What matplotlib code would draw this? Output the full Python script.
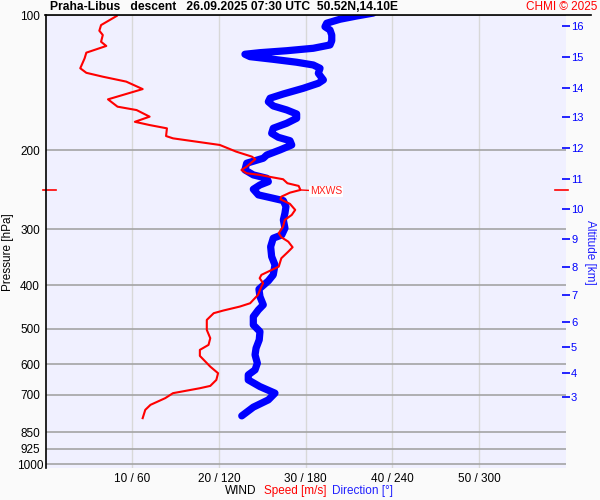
import matplotlib.pyplot as plt
from matplotlib.lines import Line2D

# wind speed [m/s] vs pressure [hPa]
speed_p = [100.5, 105.3, 108.4, 110.8, 114.7, 117.2, 121.3, 124.9, 131.4, 134.5,
           137.2, 140.7, 146.2, 154.1, 160.0, 162.8, 168.4, 172.9, 175.8, 178.8,
           186.0, 188.2, 194.7, 201.5, 206.7, 209.5, 217.6, 221.3, 225.1, 227.0,
           229.7, 232.1, 236.9, 240.2, 245.2, 248.6, 253.8, 257.2, 263.4, 271.6,
           278.7, 285.9, 295.9, 306.1, 312.5, 319.6, 328.9, 336.4, 348.0, 363.3,
           369.4, 379.0, 385.5, 395.5, 402.4, 420.1, 438.3, 445.9, 455.0, 461.2,
           477.4, 502.5, 524.3, 542.6, 556.7, 574.1, 606.6, 627.4, 649.3, 669.6,
           677.6, 695.0, 713.0, 737.9, 757.1, 790.0]
speed = [8.2, 6.4, 6.2, 6.6, 6.4, 7.0, 4.7, 4.5, 4.0, 4.7,
         6.6, 9.3, 11.2, 7.2, 8.3, 10.5, 12.0, 10.3, 12.0, 14.0,
         13.9, 14.7, 20.1, 22.0, 23.8, 24.2, 23.2, 22.6, 23.2, 24.7,
         26.1, 27.4, 27.9, 29.2, 29.4, 28.2, 27.2, 27.1, 28.2, 28.8,
         28.4, 27.6, 27.4, 26.9, 27.2, 28.0, 28.5, 28.0, 27.2, 26.9,
         26.1, 24.9, 24.7, 25.1, 24.9, 24.5, 23.6, 22.4, 20.5, 19.4,
         18.6, 18.6, 19.0, 18.8, 17.8, 17.8, 19.0, 19.9, 19.7, 19.0,
         17.8, 14.7, 13.8, 12.1, 11.5, 11.2]

# wind direction [deg] vs pressure [hPa]
dir_p = [99.0, 100.5, 102.2, 104.3, 106.2, 108.0, 110.8, 114.1, 116.6, 118.6,
         120.1, 121.3, 122.3, 123.8, 125.5, 127.4, 129.2, 131.4, 134.8, 139.5,
         141.9, 145.6, 149.9, 153.2, 156.0, 159.4, 162.7, 166.1, 169.8, 174.2,
         178.7, 183.4, 187.2, 190.5, 194.7, 199.7, 205.0, 208.4, 213.8, 221.3,
         227.0, 230.9, 235.0, 239.0, 244.3, 251.5, 255.9, 259.0, 267.1, 276.3,
         285.9, 298.3, 308.8, 314.0, 328.0, 345.1, 360.1, 379.0, 390.9, 407.8,
         423.6, 441.9, 453.5, 469.4, 489.8, 506.9, 528.8, 551.8, 571.1, 596.0,
         616.8, 632.8, 649.3, 672.0, 695.0, 719.3, 746.7, 780.8]
direction = [226.9, 215.4, 203.8, 194.6, 193.4, 196.9, 198.1, 198.1, 196.9, 185.3,
             166.9, 148.4, 138.0, 141.5, 157.6, 173.8, 185.3, 190.0, 188.8, 192.3,
             188.8, 178.4, 164.6, 155.4, 154.2, 157.6, 166.9, 173.8, 173.8, 166.9,
             157.6, 156.5, 161.1, 169.2, 170.4, 162.3, 153.1, 150.7, 139.2, 138.0,
             143.8, 153.1, 154.2, 148.4, 143.8, 147.3, 157.6, 164.6, 166.4, 165.7,
             164.6, 165.7, 163.5, 157.6, 155.8, 156.5, 158.8, 157.6, 154.2, 147.7,
             148.4, 150.7, 147.3, 143.8, 143.8, 148.4, 147.9, 145.7, 145.0, 146.6,
             145.0, 140.3, 140.3, 148.4, 158.8, 154.2, 143.8, 135.8]

p_levels = [100, 200, 300, 400, 500, 600, 700, 850, 925, 1000]
x_ticks = [10, 20, 30, 40, 50]
x_labels = ['10 / 60', '20 / 120', '30 / 180', '40 / 240', '50 / 300']
alt_km = [3, 4, 5, 6, 7, 8, 9, 10, 11, 12, 13, 14, 15, 16]
alt_p = [708.4, 627.4, 549.1, 482.4, 419.4, 363.9, 314.7, 270.3, 231.7, 197.4,
         168.9, 145.6, 124.2, 105.8]
mxws_p = 245.2
mxws_speed = 29.4

plt.rcParams['font.family'] = ['Liberation Sans', 'DejaVu Sans']
plt.rcParams['font.size'] = 8.5

W, H = 600, 500
fig = plt.figure(figsize=(6, 5), dpi=100, facecolor='#fafafa')
ax = fig.add_axes([45.6 / W, 1 - 468 / H, 520 / W, 453 / H])
ax.set_facecolor('#f0f0ff')
ax.set_yscale('log')
ax.set_ylim(1020, 100)
ax.set_xlim(0, 60)
ax.set_yticks(p_levels)
ax.set_yticklabels([str(p) for p in p_levels])
ax.yaxis.set_minor_locator(plt.NullLocator())
ax.set_xticks(x_ticks)
ax.set_xticklabels(x_labels)
ax.tick_params(axis='both', length=0)
ax.tick_params(axis='y', pad=11.2)
ax.tick_params(axis='x', pad=3.5)
for lab in ax.get_yticklabels():
    lab.set_horizontalalignment('center')
ax.grid(axis='y', color='#a4a4a4', lw=1.2)
ax.grid(axis='x', color='#d8d8d8', lw=1)
for s in ['top', 'right', 'bottom']:
    ax.spines[s].set_visible(False)
ax.spines['left'].set_linewidth(1.2)

# direction on its own x scale
axd = ax.twiny()
axd.set_xlim(0, 360)
axd.plot(direction, dir_p, color='#0000ff', lw=5.2, solid_capstyle='round',
         solid_joinstyle='round')
axd.axis('off')

# speed drawn on top
axs = ax.twiny()
axs.set_xlim(0, 60)
axs.plot(speed, speed_p, color='#ff0000', lw=1.5)
axs.axis('off')
axs.annotate('MXWS', xy=(mxws_speed, mxws_p), xytext=(7, -1), textcoords='offset points',
             color='#ff2020', fontsize=7.5, va='center', ha='left',
             bbox=dict(facecolor='white', edgecolor='none', pad=0.5),
             arrowprops=dict(arrowstyle='-', color='red', lw=1, shrinkA=0, shrinkB=0))

# mxws marks on both edges
ax.plot([-0.005, 0.02], [mxws_p, mxws_p], transform=ax.get_yaxis_transform(),
        color='red', lw=1.2, clip_on=False)
ax.plot([0.9796, 1.0046], [mxws_p, mxws_p], transform=ax.get_yaxis_transform(),
        color='red', lw=1.2, clip_on=False)

# altitude axis
axa = ax.twinx()
axa.set_yscale('log')
axa.set_ylim(1020, 100)
axa.set_yticks(alt_p)
axa.set_yticklabels([str(a) for a in alt_km])
axa.yaxis.set_minor_locator(plt.NullLocator())
axa.tick_params(axis='y', direction='inout', length=5.8, width=1.2, colors='#0000ff',
                pad=1, labelsize=8)
for s in axa.spines.values():
    s.set_visible(False)

fig.add_artist(Line2D([45 / W, 591 / W], [1 - 15 / H, 1 - 15 / H], color='black', lw=1.2))
fig.text(50 / W, 1 - 7.5 / H, 'Praha-Libus   descent   26.09.2025 07:30 UTC  50.52N,14.10E',
         fontweight='bold', fontsize=8.7, ha='left', va='center')
fig.text(597 / W, 1 - 7.5 / H, 'CHMI © 2025', color='#ff0000', ha='right', va='center')
fig.text(7.7 / W, 1 - 252 / H, 'Pressure [hPa]', rotation=90, ha='center', va='center')
fig.text(589.5 / W, 1 - 252 / H, 'Altitude [km]', rotation=270, color='#2020ff',
         ha='center', va='center')
fig.text(225 / W, 1 - 491 / H, 'WIND', ha='left', va='center')
fig.text(264 / W, 1 - 491 / H, 'Speed [m/s]', color='#ff0000', ha='left', va='center')
fig.text(332 / W, 1 - 491 / H, 'Direction [°]', color='#2020ff', ha='left', va='center')

fig.savefig('out.png', dpi=100, facecolor=fig.get_facecolor())
